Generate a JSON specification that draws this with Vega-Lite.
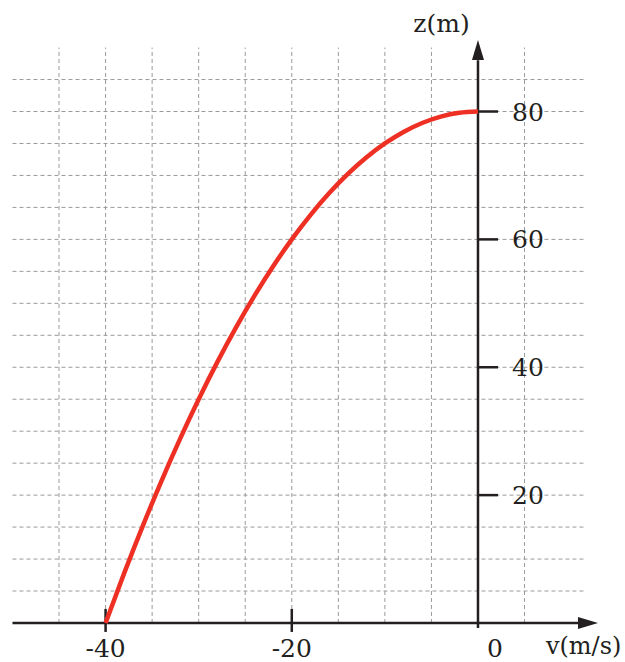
{
  "$schema": "https://vega.github.io/schema/vega-lite/v6.json",
  "width": 625,
  "height": 662,
  "padding": 0,
  "autosize": {"type": "none"},
  "background": "white",
  "config": {"view": {"stroke": null}, "axis": {"disable": true}},
  "datasets": {
    "curve": [
      {"v": -40, "z": 0}, {"v": -38, "z": 7.8}, {"v": -36, "z": 15.2}, {"v": -34, "z": 22.2},
      {"v": -32, "z": 28.8}, {"v": -30, "z": 35}, {"v": -28, "z": 40.8}, {"v": -26, "z": 46.2},
      {"v": -24, "z": 51.2}, {"v": -22, "z": 55.8}, {"v": -20, "z": 60}, {"v": -18, "z": 63.8},
      {"v": -16, "z": 67.2}, {"v": -14, "z": 70.2}, {"v": -12, "z": 72.8}, {"v": -10, "z": 75},
      {"v": -8, "z": 76.8}, {"v": -6, "z": 78.2}, {"v": -4, "z": 79.2}, {"v": -2, "z": 79.8},
      {"v": 0, "z": 80}
    ],
    "vgrid": [
      {"v": -45}, {"v": -40}, {"v": -35}, {"v": -30}, {"v": -25}, {"v": -20},
      {"v": -15}, {"v": -10}, {"v": -5}, {"v": 5}
    ],
    "hgrid": [
      {"z": 5}, {"z": 10}, {"z": 15}, {"z": 20}, {"z": 25}, {"z": 30}, {"z": 35}, {"z": 40},
      {"z": 45}, {"z": 50}, {"z": 55}, {"z": 60}, {"z": 65}, {"z": 70}, {"z": 75}, {"z": 80}, {"z": 85}
    ],
    "xticks": [{"v": -40, "label": "-40"}, {"v": -20, "label": "-20"}],
    "xzero": [{"v": 0, "label": "0"}],
    "yticks": [{"z": 20, "label": "20"}, {"z": 40, "label": "40"}, {"z": 60, "label": "60"}, {"z": 80, "label": "80"}]
  },
  "layer": [
    {
      "data": {"name": "vgrid"},
      "mark": {"type": "rule", "color": "#9a9a9a", "strokeWidth": 1, "strokeDash": [4, 3]},
      "encoding": {
        "x": {"field": "v", "type": "quantitative", "axis": null, "scale": {"domain": [-51.34, 15.79], "nice": false, "zero": false}},
        "y": {"datum": 0, "type": "quantitative", "axis": null, "scale": {"domain": [-6.10, 97.44], "nice": false, "zero": false}},
        "y2": {"datum": 90}
      }
    },
    {
      "data": {"name": "hgrid"},
      "mark": {"type": "rule", "color": "#9a9a9a", "strokeWidth": 1, "strokeDash": [4, 3]},
      "encoding": {
        "y": {"field": "z", "type": "quantitative", "axis": null, "scale": {"domain": [-6.10, 97.44], "nice": false, "zero": false}},
        "x": {"datum": -50, "type": "quantitative", "axis": null, "scale": {"domain": [-51.34, 15.79], "nice": false, "zero": false}},
        "x2": {"datum": 11.5}
      }
    },
    {
      "data": {"values": [{}]},
      "mark": {"type": "rule", "color": "#231f20", "strokeWidth": 2.5},
      "encoding": {
        "y": {"datum": 0, "type": "quantitative", "axis": null, "scale": {"domain": [-6.10, 97.44], "nice": false, "zero": false}},
        "x": {"datum": -50, "type": "quantitative", "axis": null, "scale": {"domain": [-51.34, 15.79], "nice": false, "zero": false}},
        "x2": {"datum": 12}
      }
    },
    {
      "data": {"values": [{}]},
      "mark": {"type": "rule", "color": "#231f20", "strokeWidth": 2.5},
      "encoding": {
        "x": {"datum": 0, "type": "quantitative", "axis": null, "scale": {"domain": [-51.34, 15.79], "nice": false, "zero": false}},
        "y": {"datum": -0.8, "type": "quantitative", "axis": null, "scale": {"domain": [-6.10, 97.44], "nice": false, "zero": false}},
        "y2": {"datum": 88}
      }
    },
    {
      "data": {"name": "xticks"},
      "mark": {"type": "rule", "color": "#231f20", "strokeWidth": 2.5},
      "encoding": {
        "x": {"field": "v", "type": "quantitative", "axis": null, "scale": {"domain": [-51.34, 15.79], "nice": false, "zero": false}},
        "y": {"datum": -1.4, "type": "quantitative", "axis": null, "scale": {"domain": [-6.10, 97.44], "nice": false, "zero": false}},
        "y2": {"datum": 2.2}
      }
    },
    {
      "data": {"name": "yticks"},
      "mark": {"type": "rule", "color": "#231f20", "strokeWidth": 2.5},
      "encoding": {
        "y": {"field": "z", "type": "quantitative", "axis": null, "scale": {"domain": [-6.10, 97.44], "nice": false, "zero": false}},
        "x": {"datum": 0, "type": "quantitative", "axis": null, "scale": {"domain": [-51.34, 15.79], "nice": false, "zero": false}},
        "x2": {"datum": 2.15}
      }
    },
    {
      "data": {"name": "curve"},
      "mark": {"type": "line", "color": "#ee3024", "strokeWidth": 4.5, "interpolate": "monotone"},
      "encoding": {
        "x": {"field": "v", "type": "quantitative", "axis": null, "scale": {"domain": [-51.34, 15.79], "nice": false, "zero": false}},
        "y": {"field": "z", "type": "quantitative", "axis": null, "scale": {"domain": [-6.10, 97.44], "nice": false, "zero": false}}
      }
    },
    {
      "data": {"values": [{}]},
      "mark": {"type": "point", "shape": "M-2,-0.6L0,0L-2,0.6Z", "size": 400, "filled": true, "color": "#231f20", "opacity": 1, "strokeWidth": 0},
      "encoding": {
        "x": {"datum": 12.89, "type": "quantitative", "axis": null, "scale": {"domain": [-51.34, 15.79], "nice": false, "zero": false}},
        "y": {"datum": 0, "type": "quantitative", "axis": null, "scale": {"domain": [-6.10, 97.44], "nice": false, "zero": false}}
      }
    },
    {
      "data": {"values": [{}]},
      "mark": {"type": "point", "shape": "M-0.6,2L0,0L0.6,2Z", "size": 400, "filled": true, "color": "#231f20", "opacity": 1, "strokeWidth": 0},
      "encoding": {
        "x": {"datum": 0, "type": "quantitative", "axis": null, "scale": {"domain": [-51.34, 15.79], "nice": false, "zero": false}},
        "y": {"datum": 91.2, "type": "quantitative", "axis": null, "scale": {"domain": [-6.10, 97.44], "nice": false, "zero": false}}
      }
    },
    {
      "data": {"name": "xticks"},
      "mark": {"type": "text", "font": "DejaVu Serif", "fontSize": 25, "color": "#231f20", "align": "center", "baseline": "alphabetic"},
      "encoding": {
        "x": {"field": "v", "type": "quantitative", "axis": null, "scale": {"domain": [-51.34, 15.79], "nice": false, "zero": false}},
        "y": {"datum": -5.3, "type": "quantitative", "axis": null, "scale": {"domain": [-6.10, 97.44], "nice": false, "zero": false}},
        "text": {"field": "label"}
      }
    },
    {
      "data": {"name": "xzero"},
      "mark": {"type": "text", "font": "DejaVu Serif", "fontSize": 25, "color": "#231f20", "align": "center", "baseline": "alphabetic", "dx": 17},
      "encoding": {
        "x": {"field": "v", "type": "quantitative", "axis": null, "scale": {"domain": [-51.34, 15.79], "nice": false, "zero": false}},
        "y": {"datum": -5.3, "type": "quantitative", "axis": null, "scale": {"domain": [-6.10, 97.44], "nice": false, "zero": false}},
        "text": {"field": "label"}
      }
    },
    {
      "data": {"name": "yticks"},
      "mark": {"type": "text", "font": "DejaVu Serif", "fontSize": 25, "color": "#231f20", "align": "left", "baseline": "middle", "dx": 34, "dy": 1},
      "encoding": {
        "y": {"field": "z", "type": "quantitative", "axis": null, "scale": {"domain": [-6.10, 97.44], "nice": false, "zero": false}},
        "x": {"datum": 0, "type": "quantitative", "axis": null, "scale": {"domain": [-51.34, 15.79], "nice": false, "zero": false}},
        "text": {"field": "label"}
      }
    },
    {
      "data": {"values": [{"label": "z(m)"}]},
      "mark": {"type": "text", "font": "DejaVu Serif", "fontSize": 25, "color": "#231f20", "align": "center", "baseline": "alphabetic"},
      "encoding": {
        "x": {"datum": -3.92, "type": "quantitative", "axis": null, "scale": {"domain": [-51.34, 15.79], "nice": false, "zero": false}},
        "y": {"datum": 92.4, "type": "quantitative", "axis": null, "scale": {"domain": [-6.10, 97.44], "nice": false, "zero": false}},
        "text": {"field": "label"}
      }
    },
    {
      "data": {"values": [{"label": "v(m/s)"}]},
      "mark": {"type": "text", "font": "DejaVu Serif", "fontSize": 24, "color": "#231f20", "align": "right", "baseline": "alphabetic"},
      "encoding": {
        "x": {"datum": 15.4, "type": "quantitative", "axis": null, "scale": {"domain": [-51.34, 15.79], "nice": false, "zero": false}},
        "y": {"datum": -4.9, "type": "quantitative", "axis": null, "scale": {"domain": [-6.10, 97.44], "nice": false, "zero": false}},
        "text": {"field": "label"}
      }
    }
  ]
}
